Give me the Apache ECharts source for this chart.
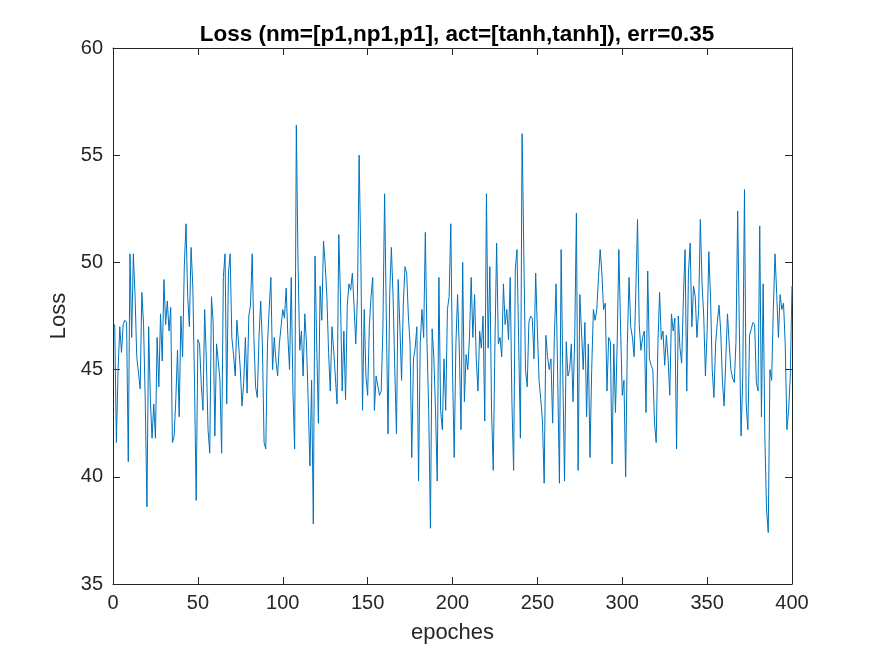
<!DOCTYPE html>
<html>
<head>
<meta charset="utf-8">
<title>Loss</title>
<script src="https://cdn.jsdelivr.net/npm/echarts@6/dist/echarts.min.js"></script>
<style>
  html, body { margin: 0; padding: 0; background: #fff; }
  #chart { width: 875px; height: 656px; }
</style>
</head>
<body>
<div id="chart"></div>
<script>
// Valores (época 1..400)
const lossA = [
  47.1, 41.6, 45.0, 47.0, 45.8, 47.1, 47.3, 47.2, 40.7, 50.4,
  46.5, 50.4, 48.4, 45.6, 45.6, 44.1, 48.6, 47.1, 43.5, 38.6,
  47.0, 43.6, 41.8, 43.4, 41.8, 46.5, 44.2, 47.6, 45.4, 49.2,
  47.1, 48.2, 46.8, 47.9, 41.6, 41.9, 43.6, 45.9, 42.8, 47.5,
  45.6, 49.8, 51.8, 48.4, 47.0, 50.7, 48.9, 44.5, 38.9, 46.4,
  46.2, 44.3, 43.1, 47.8, 45.4, 42.2, 41.1, 48.4, 47.2, 41.9,
  46.2, 45.4, 44.5, 41.1, 49.3, 50.4, 43.4, 49.5, 50.4, 46.5,
  45.7, 44.7, 47.3, 46.2, 45.0, 43.3, 44.4, 46.5, 43.9, 47.5,
  48.0, 50.4, 46.5, 44.2, 43.7, 46.5, 48.2, 46.2, 41.6, 41.3,
  46.2, 47.8, 49.3, 45.0, 46.5, 45.4, 44.7, 46.2, 47.0, 47.8
];
const lossB = [
  47.4, 48.8, 46.6, 45.0, 49.3, 44.0, 41.3, 56.4, 50.0, 45.9,
  46.8, 44.7, 47.6, 46.2, 43.5, 40.5, 44.5, 37.8, 50.3, 46.2,
  42.5, 48.9, 47.3, 51.0, 49.9, 48.4, 45.8, 44.0, 47.0, 45.9,
  45.9, 43.4, 51.3, 48.4, 44.0, 46.8, 43.6, 48.0, 49.0, 48.7,
  49.5, 48.0, 46.2, 48.4, 55.0, 50.2, 43.1, 47.8, 44.7, 43.8,
  47.0, 48.4, 49.3, 43.1, 44.7, 44.7, 43.8, 44.0, 46.9, 53.2,
  47.5, 42.0, 48.5, 50.7, 48.4, 45.0, 42.0, 49.2, 47.0, 44.5,
  48.0, 49.8, 49.5, 47.5, 46.2, 40.9, 45.5, 46.0, 47.0, 39.8,
  46.2, 47.8, 46.5, 51.4, 46.2, 43.0, 37.6, 46.9, 45.6, 43.1,
  39.8, 49.3, 43.1, 42.2, 45.5, 43.1, 47.8, 48.4, 51.8, 45.0
];
const lossC = [
  40.9, 46.2, 48.5, 46.0, 42.2, 50.0, 43.5, 45.7, 45.0, 46.5,
  49.3, 46.5, 48.5, 45.5, 44.0, 46.8, 46.0, 47.5, 42.6, 53.2,
  46.0, 49.8, 43.1, 40.3, 46.2, 50.9, 46.2, 46.5, 45.6, 49.0,
  47.1, 47.8, 46.4, 49.3, 43.5, 40.3, 49.7, 50.6, 46.2, 41.8,
  56.0, 50.5, 45.0, 44.2, 47.2, 47.5, 47.4, 45.5, 49.5, 46.8,
  44.5, 43.6, 42.6, 39.7, 46.6, 45.6, 45.0, 45.5, 42.5, 46.5,
  49.0, 44.5, 39.7, 50.6, 44.7, 39.8, 46.3, 44.7, 45.0, 46.2,
  43.5, 46.5, 52.3, 40.3, 48.5, 46.8, 45.0, 47.2, 42.8, 46.2,
  40.9, 45.0, 47.8, 47.3, 47.8, 49.3, 50.6, 49.5, 47.8, 48.1,
  44.0, 46.5, 46.3, 40.6, 46.2, 43.0, 46.2, 50.6, 47.0, 43.8
];
const lossD = [
  44.5, 40.0, 46.2, 49.3, 47.0, 46.5, 45.6, 48.7, 52.0, 47.1,
  45.9, 46.5, 46.8, 43.0, 49.6, 45.5, 45.2, 45.0, 42.5, 41.6,
  46.2, 48.6, 46.4, 46.8, 45.2, 46.6, 45.5, 43.8, 47.6, 46.8,
  47.4, 41.3, 47.5, 46.0, 45.3, 48.3, 50.6, 44.0, 49.5, 50.9,
  47.0, 48.9, 48.4, 46.5, 47.8, 52.0, 49.0, 47.5, 44.7, 46.8,
  50.5, 48.4, 45.0, 43.7, 46.2, 47.2, 48.0, 46.8, 44.5, 43.3,
  45.5, 47.6, 46.2, 45.0, 44.6, 44.4, 46.3, 52.4, 46.8, 41.9,
  44.7, 53.4, 43.4, 42.2, 46.6, 46.9, 47.2, 47.1, 44.4, 44.0,
  51.7, 42.8, 49.0, 41.9, 38.5, 37.4, 45.0, 44.5, 47.8, 50.4,
  48.5, 46.5, 48.5, 47.8, 48.1, 46.2, 42.2, 43.1, 44.7, 48.9
];
const lossValues = lossA.concat(lossB, lossC, lossD);

// Ticks de los ejes
const xTicks = [0, 50, 100, 150, 200, 250, 300, 350, 400];
const yTicks = [35, 40, 45, 50, 55, 60];

const chartTitle = 'Loss (nm=[p1,np1,p1], act=[tanh,tanh]), err=0.35';
const fontName = "'Liberation Sans', Arial, sans-serif";
const axisColor = '#262626';

const chart = echarts.init(document.getElementById('chart'));

// Un eje "espejo" arriba y a la derecha para cerrar la caja como en MATLAB
function makeAxis(kind, ticks, pos, showLabels, name) {
  return {
    type: 'value',
    position: pos,
    min: ticks[0],
    max: ticks[ticks.length - 1],
    interval: ticks[1] - ticks[0],
    name: name || '',
    nameLocation: 'middle',
    nameGap: kind === 'x' ? 38 : 40,
    nameTextStyle: { fontFamily: fontName, fontSize: 22, color: axisColor },
    axisLine: { show: true, onZero: false, lineStyle: { color: axisColor, width: 1 } },
    axisTick: { show: true, inside: true, length: 7, lineStyle: { color: axisColor } },
    axisLabel: {
      show: showLabels,
      fontFamily: fontName,
      fontSize: 20,
      color: axisColor,
      margin: kind === 'x' ? 9 : 10
    },
    splitLine: { show: false }
  };
}

const points = lossValues.map((v, i) => [i + 1, v]);

chart.setOption({
  backgroundColor: '#ffffff',
  animation: false,
  title: {
    text: chartTitle,
    left: 452,
    textAlign: 'center',
    top: 18,
    textStyle: { fontFamily: fontName, fontSize: 22.5, fontWeight: 'bold', color: '#000' }
  },
  grid: { left: 113, right: 83, top: 48, bottom: 72 },
  xAxis: [
    makeAxis('x', xTicks, 'bottom', true, 'epoches'),
    makeAxis('x', xTicks, 'top', false)
  ],
  yAxis: [
    makeAxis('y', yTicks, 'left', true, 'Loss'),
    makeAxis('y', yTicks, 'right', false)
  ],
  series: [
    {
      type: 'line',
      xAxisIndex: 0,
      yAxisIndex: 0,
      data: points,
      showSymbol: false,
      lineStyle: { color: '#0072BD', width: 1 },
      itemStyle: { color: '#0072BD' }
    }
  ]
});
</script>
</body>
</html>
